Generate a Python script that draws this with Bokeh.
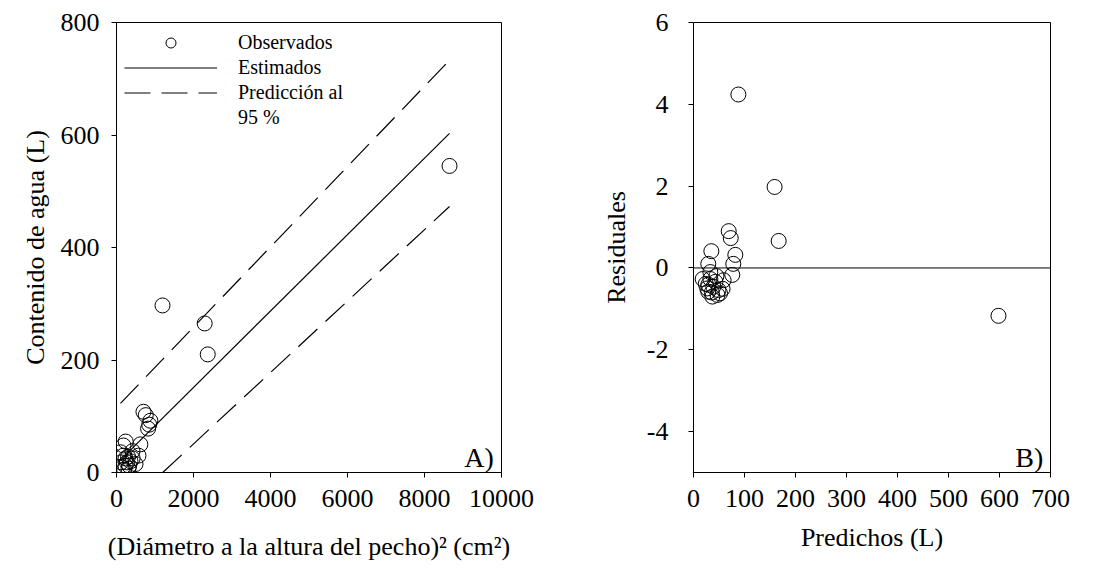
from bokeh.plotting import figure
from bokeh.layouts import row
from bokeh.models import (Legend, LegendItem, Span, Label, FixedTicker,
                          ColumnDataSource, Range1d)
from bokeh.embed import file_html
from bokeh.resources import INLINE

FONT = "Liberation Serif"

# ---------------- Data: panel A ----------------
dap2 = [1195, 2290, 2370, 8650,
        700, 760, 880, 850, 820, 620,
        240, 180, 104, 416, 571, 234, 120, 364, 156, 312, 494, 234, 300, 420,
        180, 270, 330, 200]
agua_obs = [297, 265, 210, 545,
            108, 102, 92, 85, 78, 50,
            55, 48, 36, 38, 30, 25, 18, 20, 9, 7, 15, 12, 28, 25,
            30, 18, 12, 5]
fit_x = [100, 8650]
fit_y = [22, 603]
pi_up_x = [104, 8650]
pi_up_y = [123, 733]
pi_lo_x = [1200, 8650]
pi_lo_y = [0, 473]

# ---------------- Data: panel B ----------------
predichos = [88, 159, 167, 598,
             69, 73, 82, 78, 35, 29,
             33, 76, 24, 39, 29, 47, 57, 33, 43, 18, 59, 37, 49, 29, 45, 36, 52, 27]
residuales = [4.24, 1.98, 0.66, -1.17,
              0.9, 0.73, 0.32, 0.1, 0.41, 0.1,
              -0.1, -0.17, -0.39, -0.46, -0.58, -0.66, -0.51, -0.27, -0.34, -0.27,
              -0.3, -0.7, -0.54, -0.41, -0.2, -0.6, -0.62, -0.5]

xticks_a = [0, 2000, 4000, 6000, 8000, 10000]
yticks_a = [0, 200, 400, 600, 800]
xticks_b = [0, 100, 200, 300, 400, 500, 600, 700]
yticks_b = [-4, -2, 0, 2, 4, 6]

DASH = "26 11"


def style(p):
    p.grid.visible = False
    p.outline_line_color = "black"
    p.outline_line_alpha = 1
    p.outline_line_width = 1
    p.background_fill_color = "white"
    p.border_fill_color = "white"
    for ax in p.axis:
        ax.axis_line_color = "black"
        ax.major_tick_line_color = "black"
        ax.minor_tick_line_color = None
        ax.major_tick_out = 5
        ax.major_tick_in = 0
        ax.major_label_text_font = FONT
        ax.major_label_text_font_size = "26px"
        ax.major_label_text_color = "black"
        ax.axis_label_text_font = FONT
        ax.axis_label_text_font_size = "26px"
        ax.axis_label_text_font_style = "normal"
        ax.axis_label_text_color = "black"
    p.xaxis.major_label_standoff = 12


# ---------------- Panel A ----------------
pa = figure(frame_width=385, frame_height=450, output_backend="svg",
            toolbar_location=None, x_range=Range1d(0, 10000), y_range=Range1d(0, 800),
            min_border_left=116, min_border_right=47, min_border_top=22,
            min_border_bottom=97)
style(pa)
pa.xaxis.ticker = FixedTicker(ticks=xticks_a)
pa.yaxis.ticker = FixedTicker(ticks=yticks_a)
pa.xaxis.axis_label = "(Diámetro a la altura del pecho)² (cm²)"
pa.yaxis.axis_label = "Contenido de agua (L)"
pa.yaxis.major_label_standoff = 12
pa.yaxis.axis_label_standoff = 8
pa.xaxis.axis_label_standoff = 22

src_a = ColumnDataSource(dict(x=dap2, y=agua_obs))
r_obs = pa.scatter("x", "y", source=src_a, marker="circle", size=15,
                   fill_alpha=0, line_color="black", line_width=1)
r_fit = pa.line(fit_x, fit_y, line_color="black", line_width=1.2)
r_up = pa.line(pi_up_x, pi_up_y, line_color="black", line_width=1.2, line_dash=DASH)
r_lo = pa.line(pi_lo_x, pi_lo_y, line_color="black", line_width=1.2, line_dash=DASH)
r_blank = pa.line([], [], line_alpha=0)

legend = Legend(items=[
    LegendItem(label="Observados", renderers=[r_obs]),
    LegendItem(label="Estimados", renderers=[r_fit]),
    LegendItem(label="Predicción al", renderers=[r_up]),
    LegendItem(label="95 %", renderers=[r_blank]),
], location="top_left")
legend.label_text_font = FONT
legend.label_text_font_size = "20px"
legend.label_text_color = "black"
legend.glyph_width = 93
legend.glyph_height = 25
legend.label_height = 25
legend.label_standoff = 21
legend.spacing = 0
legend.padding = 0
legend.margin = 8
legend.background_fill_alpha = 0
legend.border_line_alpha = 0
pa.add_layout(legend, "center")

pa.add_layout(Label(x=9800, y=27, text="A)", text_align="right",
                    text_baseline="alphabetic", text_font=FONT,
                    text_font_size="28px", text_color="black"))

# ---------------- Panel B ----------------
pb = figure(frame_width=357, frame_height=450, output_backend="svg",
            toolbar_location=None, x_range=Range1d(0, 700), y_range=Range1d(-5, 6),
            min_border_left=145, min_border_right=40, min_border_top=22,
            min_border_bottom=97)
style(pb)
pb.xaxis.ticker = FixedTicker(ticks=xticks_b)
pb.yaxis.ticker = FixedTicker(ticks=yticks_b)
pb.yaxis.major_label_overrides = {-4: "-4", -2: "-2"}
pb.xaxis.axis_label = "Predichos (L)"
pb.yaxis.axis_label = "Residuales"
pb.yaxis.major_label_standoff = 20
pb.yaxis.axis_label_standoff = 13
pb.xaxis.axis_label_standoff = 13

pb.add_layout(Span(location=0, dimension="width", line_color="black", line_width=1))
src_b = ColumnDataSource(dict(x=predichos, y=residuales))
pb.scatter("x", "y", source=src_b, marker="circle", size=15,
           fill_alpha=0, line_color="black", line_width=1)

pb.add_layout(Label(x=686, y=-4.63, text="B)", text_align="right",
                    text_baseline="alphabetic", text_font=FONT,
                    text_font_size="28px", text_color="black"))

layout = row(pa, pb, spacing=0)
open("out.html", "w").write(file_html(layout, INLINE))
